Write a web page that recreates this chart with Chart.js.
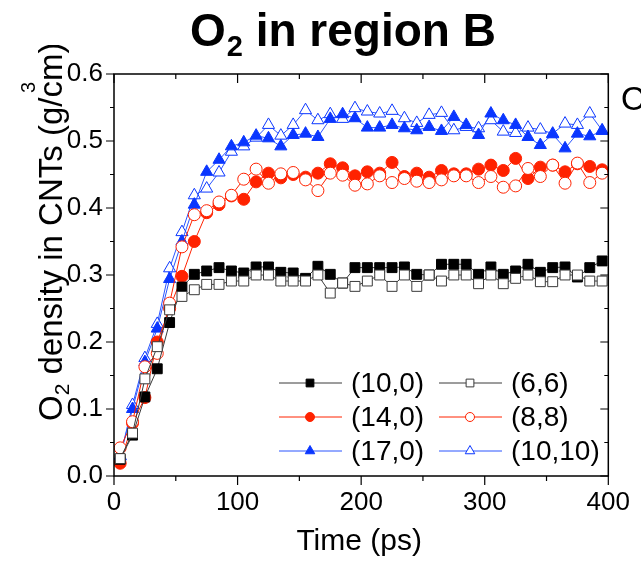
<!DOCTYPE html>
<html>
<head>
<meta charset="utf-8">
<script src="https://cdn.jsdelivr.net/npm/chart.js@4.4.1/dist/chart.umd.min.js"></script>
<style>
  body { margin: 0; background: #fff; }
  canvas { display: block; }
</style>
</head>
<body>
<canvas id="chart" width="641" height="561"></canvas>
<script>
// time axis (ps), one marker every 10 ps
const times = [5, 15, 25, 35, 45, 55, 65, 75, 85, 95, 105, 115, 125, 135, 145, 155, 165, 175, 185, 195,
               205, 215, 225, 235, 245, 255, 265, 275, 285, 295, 305, 315, 325, 335, 345, 355, 365, 375, 385, 395];

// O2 density (g/cm3) per nanotube
const cnt10_0 = [0.025, 0.061, 0.118, 0.160, 0.229, 0.282, 0.301, 0.306, 0.311, 0.306,
                 0.303, 0.312, 0.312, 0.304, 0.303, 0.295, 0.313, 0.301, 0.288, 0.311,
                 0.311, 0.311, 0.311, 0.312, 0.301, 0.300, 0.316, 0.316, 0.316, 0.301,
                 0.312, 0.301, 0.306, 0.316, 0.304, 0.311, 0.312, 0.297, 0.311, 0.321];
const cnt6_6 = [0.026, 0.064, 0.145, 0.193, 0.248, 0.268, 0.278, 0.286, 0.286, 0.291,
                0.291, 0.300, 0.300, 0.291, 0.291, 0.291, 0.300, 0.273, 0.288, 0.283,
                0.291, 0.300, 0.283, 0.300, 0.283, 0.300, 0.291, 0.300, 0.300, 0.287,
                0.300, 0.287, 0.295, 0.300, 0.290, 0.290, 0.300, 0.300, 0.291, 0.291];
const cnt14_0 = [0.019, 0.079, 0.117, 0.200, 0.250, 0.298, 0.350, 0.393, 0.405, 0.418,
                 0.413, 0.439, 0.452, 0.445, 0.450, 0.446, 0.452, 0.466, 0.460, 0.448,
                 0.454, 0.452, 0.468, 0.447, 0.452, 0.446, 0.456, 0.451, 0.451, 0.458,
                 0.464, 0.456, 0.474, 0.444, 0.461, 0.464, 0.454, 0.466, 0.462, 0.457];
const cnt8_8 = [0.042, 0.081, 0.163, 0.183, 0.258, 0.342, 0.390, 0.396, 0.409, 0.419,
                0.443, 0.458, 0.437, 0.451, 0.453, 0.442, 0.426, 0.452, 0.449, 0.434,
                0.436, 0.448, 0.438, 0.444, 0.440, 0.438, 0.442, 0.448, 0.448, 0.438,
                0.447, 0.431, 0.433, 0.459, 0.447, 0.464, 0.437, 0.467, 0.438, 0.452];
const cnt17_0 = [0.030, 0.100, 0.170, 0.220, 0.294, 0.350, 0.405, 0.454, 0.472, 0.492,
                 0.498, 0.508, 0.504, 0.492, 0.509, 0.511, 0.506, 0.533, 0.540, 0.534,
                 0.520, 0.520, 0.524, 0.519, 0.516, 0.521, 0.515, 0.536, 0.524, 0.509,
                 0.541, 0.531, 0.524, 0.506, 0.494, 0.510, 0.489, 0.511, 0.507, 0.515];
const cnt10_10 = [0.029, 0.106, 0.176, 0.227, 0.310, 0.364, 0.419, 0.429, 0.453, 0.484,
                  0.492, 0.505, 0.524, 0.508, 0.524, 0.546, 0.531, 0.540, 0.533, 0.549,
                  0.544, 0.541, 0.545, 0.534, 0.527, 0.539, 0.542, 0.516, 0.521, 0.519,
                  0.531, 0.514, 0.512, 0.520, 0.517, 0.511, 0.526, 0.524, 0.541, 0.516];

const seriesNames = ['(10,0)', '(6,6)', '(14,0)', '(8,8)', '(17,0)', '(10,10)'];
const xTickLabels = ['0', '100', '200', '300', '400'];
const yTickLabels = ['0.0', '0.1', '0.2', '0.3', '0.4', '0.5', '0.6'];

const BLACK = '#000000', GREY = '#3a3a3a';
const RED = '#ff2200', BLUE = '#0a36ff', BLUE_LINE = '#2a55ff';

function pts(arr) {
  return arr.map((v, i) => ({ x: times[i], y: v }));
}

function makeSet(label, arr, color, lineColor, style, filled, radius, order) {
  return {
    label: label,
    data: pts(arr),
    borderColor: lineColor,
    borderWidth: 1,
    pointStyle: style,
    pointRadius: radius,
    pointBorderColor: color,
    pointBackgroundColor: filled ? color : '#ffffff',
    pointBorderWidth: 1,
    tension: 0,
    order: order
  };
}

const datasets = [
  makeSet(seriesNames[0], cnt10_0, BLACK, GREY, 'rect', true, 7, 2),
  makeSet(seriesNames[1], cnt6_6, GREY, GREY, 'rect', false, 7, 1),
  makeSet(seriesNames[2], cnt14_0, RED, RED, 'circle', true, 6, 4),
  makeSet(seriesNames[3], cnt8_8, RED, RED, 'circle', false, 6, 3),
  makeSet(seriesNames[4], cnt17_0, BLUE, BLUE_LINE, 'triangle', true, 7, 5),
  makeSet(seriesNames[5], cnt10_10, BLUE, BLUE_LINE, 'triangle', false, 7, 6)
];

const FONT = '"Liberation Sans", Arial, sans-serif';

// frame, ticks, titles and the in-plot legend
const decor = {
  id: 'decor',
  afterDraw(chart) {
    const ctx = chart.ctx;
    const { left, right, top, bottom } = chart.chartArea;
    const xs = chart.scales.x, ys = chart.scales.y;
    ctx.save();
    ctx.strokeStyle = '#000';
    ctx.lineWidth = 1.5;
    ctx.strokeRect(left, top, right - left, bottom - top);

    // x ticks every 50 ps
    ctx.lineWidth = 1.2;
    for (let v = 0; v <= 400; v += 50) {
      const px = xs.getPixelForValue(v);
      const len = v % 100 === 0 ? 9 : 5;
      ctx.beginPath();
      ctx.moveTo(px, bottom); ctx.lineTo(px, bottom + len);
      ctx.moveTo(px, top); ctx.lineTo(px, top + len);
      ctx.stroke();
    }
    // y ticks every 0.05
    for (let k = 0; k <= 12; k++) {
      const py = ys.getPixelForValue(k * 0.05);
      const len = k % 2 === 0 ? 8 : 4;
      ctx.beginPath();
      ctx.moveTo(left - len, py); ctx.lineTo(left, py);
      ctx.moveTo(right - len, py); ctx.lineTo(right, py);
      ctx.stroke();
    }

    ctx.fillStyle = '#000';
    // chart title with subscript
    ctx.textBaseline = 'alphabetic';
    ctx.textAlign = 'left';
    ctx.font = 'bold 46px ' + FONT;
    let tx = 190;
    ctx.fillText('O', tx, 46);
    tx += ctx.measureText('O').width + 1;
    ctx.font = 'bold 29px ' + FONT;
    ctx.fillText('2', tx, 56);
    tx += ctx.measureText('2').width;
    ctx.font = 'bold 46px ' + FONT;
    ctx.fillText(' in region B', tx, 46);

    // x axis title
    ctx.font = '30px ' + FONT;
    ctx.textAlign = 'center';
    ctx.fillText('Time (ps)', (left + right) / 2 - 2, 550);

    // cut-off letter at the right edge
    ctx.textAlign = 'left';
    ctx.font = '33px ' + FONT;
    ctx.fillText('O', 621, 110);

    // y axis title, rotated
    ctx.save();
    ctx.beginPath();
    ctx.rect(0, 45, 110, 516);
    ctx.clip();
    ctx.translate(62, 421);
    ctx.rotate(-Math.PI / 2);
    ctx.font = '33px ' + FONT;
    let ry = 0;
    ctx.fillText('O', ry, 0);
    ry += ctx.measureText('O').width;
    ctx.font = '21px ' + FONT;
    ctx.fillText('2', ry, 7);
    ry += ctx.measureText('2').width;
    ctx.font = '33px ' + FONT;
    ctx.fillText(' density in CNTs (g/cm)', ry, 0);
    ctx.font = '20px ' + FONT;
    ctx.fillText('3', 328, -27);
    ctx.restore();

    // legend: two columns, three rows
    const rows = [383, 417, 451];
    const cols = [{ x1: 279, x2: 342, mx: 310, tx: 351 }, { x1: 439, x2: 502, mx: 470, tx: 511 }];
    ctx.font = '28px ' + FONT;
    ctx.textBaseline = 'middle';
    datasets.forEach((ds, i) => {
      const c = cols[i % 2], y = rows[Math.floor(i / 2)];
      ctx.strokeStyle = ds.borderColor;
      ctx.lineWidth = 1;
      ctx.beginPath();
      ctx.moveTo(c.x1, y); ctx.lineTo(c.x2, y);
      ctx.stroke();
      ctx.fillStyle = ds.pointBackgroundColor;
      ctx.strokeStyle = ds.pointBorderColor;
      Chart.helpers.drawPoint(ctx, { pointStyle: ds.pointStyle, radius: ds.pointStyle === 'circle' ? 4.5 : 5.5, rotation: 0, borderWidth: 1 }, c.mx, y);
      ctx.fillStyle = '#000';
      ctx.fillText(ds.label, c.tx, y + 1);
    });
    ctx.restore();
  }
};

new Chart(document.getElementById('chart'), {
  type: 'line',
  data: { datasets: datasets },
  options: {
    responsive: false,
    animation: false,
    layout: { padding: { left: 0, right: 27, top: 74, bottom: 0 } },
    plugins: {
      legend: { display: false },
      tooltip: { enabled: false }
    },
    scales: {
      x: {
        type: 'linear',
        min: 0,
        max: 400,
        afterFit: (s) => { s.height = 85; },
        grid: { display: false, drawTicks: false },
        border: { display: false },
        ticks: {
          stepSize: 100,
          padding: 11,
          color: '#000',
          font: { family: FONT, size: 26 },
          maxRotation: 0,
          callback: (v) => xTickLabels[Math.round(v / 100)]
        }
      },
      y: {
        min: 0,
        max: 0.6,
        afterFit: (s) => { s.width = 114; },
        grid: { display: false, drawTicks: false },
        border: { display: false },
        ticks: {
          stepSize: 0.1,
          padding: 11,
          color: '#000',
          font: { family: FONT, size: 26 },
          callback: (v) => yTickLabels[Math.round(v * 10)]
        }
      }
    }
  },
  plugins: [decor]
});
</script>
</body>
</html>
